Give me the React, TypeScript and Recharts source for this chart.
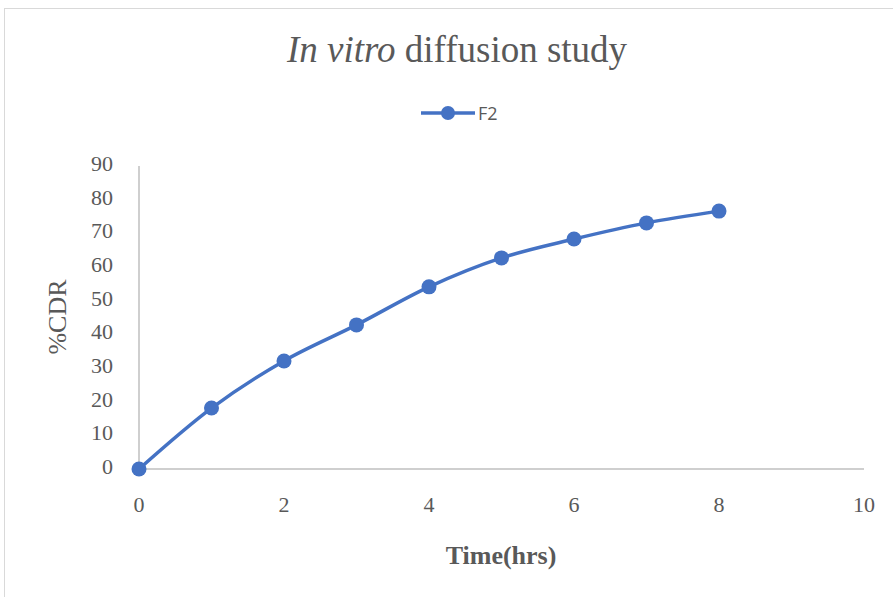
import React from 'react';
import { LineChart, Line, XAxis, YAxis } from 'recharts';

const timeHrs = [0, 1, 2, 3, 4, 5, 6, 7, 8];
const cdrF2 = [0, 18.1, 32.1, 42.8, 54.1, 62.7, 68.3, 73.1, 76.6];
const xTicks = [0, 2, 4, 6, 8, 10];
const yTicks = [0, 10, 20, 30, 40, 50, 60, 70, 80, 90];

const data = timeHrs.map((t, i) => ({ time: t, F2: cdrF2[i] }));

const serif = '"Liberation Serif", "Times New Roman", serif';
const blue = '#4472c4';
const textGray = '#595959';

const XTick = ({ x, y, payload }: any) => (
  <text x={x} y={y + 30} textAnchor="middle" dominantBaseline="middle" fontFamily={serif} fontSize={22} fill={textGray}>
    {payload.value}
  </text>
);

const YTick = ({ x, y, payload }: any) => (
  <text x={x - 18} y={y} textAnchor="end" dominantBaseline="middle" fontFamily={serif} fontSize={22} fill={textGray}>
    {payload.value}
  </text>
);

export default function App() {
  return (
    <div style={{ position: 'absolute', left: 0, top: 0, width: 893, height: 597, background: '#fff', overflow: 'hidden' }}>
      <div style={{ position: 'absolute', left: 4, top: 8, width: 900, height: 600, border: '1px solid #d9d9d9' }} />
      <div style={{ position: 'absolute', left: 0, top: 27, width: 914, textAlign: 'center', fontFamily: serif, fontSize: 37, lineHeight: '46px', color: textGray }}>
        <i>In vitro</i> diffusion study
      </div>
      {/* legend */}
      <div style={{ position: 'absolute', left: 420, top: 103, height: 20, display: 'flex', alignItems: 'center' }}>
        <svg width={56} height={18}>
          <line x1={1} y1={9} x2={55} y2={9} stroke={blue} strokeWidth={3.5} />
          <circle cx={28} cy={9} r={7} fill={blue} />
        </svg>
        <span style={{ fontFamily: '"Open Sans", "Liberation Sans", sans-serif', fontSize: 18, color: textGray, marginLeft: 2 }}>F2</span>
      </div>
      <div style={{ position: 'absolute', left: 0, top: 0 }}>
        <LineChart width={893} height={597} data={data} margin={{ top: 166, right: 29, left: 79, bottom: 98 }}>
          <XAxis
            dataKey="time"
            type="number"
            domain={[0, 10]}
            ticks={xTicks}
            tickLine={false}
            axisLine={{ stroke: '#bfbfbf', strokeWidth: 1.5 }}
            tick={<XTick />}
            height={30}
          />
          <YAxis
            type="number"
            domain={[0, 90]}
            ticks={yTicks}
            tickLine={false}
            axisLine={{ stroke: '#bfbfbf', strokeWidth: 1.5 }}
            tick={<YTick />}
            width={60}
          />
          <Line
            type="monotone"
            dataKey="F2"
            name="F2"
            stroke={blue}
            strokeWidth={3.5}
            dot={{ r: 7.5, fill: blue, stroke: blue, strokeWidth: 0 }}
            activeDot={false}
            isAnimationActive={false}
          />
        </LineChart>
      </div>
      <div style={{ position: 'absolute', left: 58, top: 317, width: 0, height: 0 }}>
        <div style={{ position: 'absolute', left: 0, top: 0, transform: 'translate(-50%, -50%) rotate(-90deg)', fontFamily: serif, fontSize: 26, color: textGray, whiteSpace: 'nowrap' }}>
          %CDR
        </div>
      </div>
      <div style={{ position: 'absolute', left: 0, top: 540, width: 1002, textAlign: 'center', fontFamily: serif, fontSize: 26, lineHeight: '32px', fontWeight: 'bold', color: textGray }}>
        Time(hrs)
      </div>
    </div>
  );
}
